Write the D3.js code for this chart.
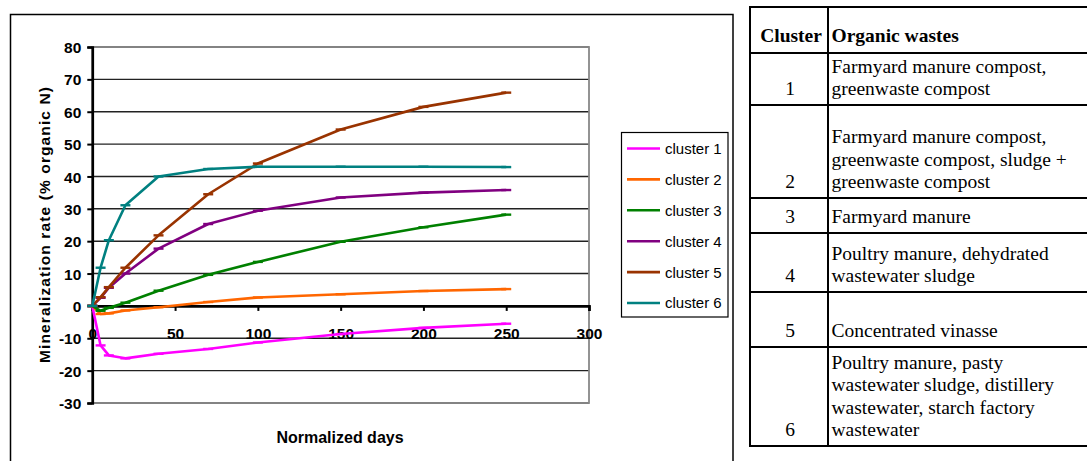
<!DOCTYPE html>
<html><head><meta charset="utf-8">
<script src="https://cdn.jsdelivr.net/npm/d3@7"></script>
<style>body{margin:0;background:#fff}svg{display:block}</style>
</head><body>
<svg id="c" width="1087" height="461"></svg>
<script>
// ---- data ----
const days = [0, 5, 10, 20, 40, 70, 100, 150, 200, 250];
const cluster1 = [0, -12.2, -15.3, -16.2, -14.8, -13.3, -11.3, -8.7, -6.8, -5.5];
const cluster2 = [0, -2.5, -2.3, -1.4, -0.4, 1.2, 2.6, 3.6, 4.6, 5.2];
const cluster3 = [0, -1.5, -0.6, 1.0, 4.7, 9.6, 13.6, 19.8, 24.3, 28.2];
const cluster4 = [0, 2.5, 5.6, 10.0, 17.7, 25.3, 29.4, 33.5, 35.0, 35.8];
const cluster5 = [0, 2.7, 5.8, 11.8, 21.8, 34.5, 44.0, 54.5, 61.5, 65.9];
const cluster6 = [0, 11.8, 20.3, 31.1, 40.0, 42.3, 43.0, 43.0, 43.0, 42.9];
const seriesNames = ["cluster 1", "cluster 2", "cluster 3", "cluster 4", "cluster 5", "cluster 6"];
const seriesColors = ["#FF00FF", "#FF6600", "#008000", "#800080", "#993300", "#008080"];
const yTicks = [80, 70, 60, 50, 40, 30, 20, 10, 0, -10, -20, -30];
const yTickLabels = ["80", "70", "60", "50", "40", "30", "20", "10", "0", "-10", "-20", "-30"];
const xTicks = [0, 50, 100, 150, 200, 250, 300];
const xTickLabels = ["0", "50", "100", "150", "200", "250", "300"];
const yTitle = "Mineralization rate (% organic N)";
const xTitle = "Normalized days";
const tableHeader = ["Cluster", "Organic wastes"];
const tableClusters = ["1", "2", "3", "4", "5", "6"];
const tableWastes = [
  ["Farmyard manure compost,", "greenwaste compost"],
  ["", "Farmyard manure compost,", "greenwaste compost, sludge +", "greenwaste compost"],
  ["Farmyard manure"],
  ["Poultry manure, dehydrated", "wastewater sludge"],
  ["", "Concentrated vinasse"],
  ["Poultry manure, pasty", "wastewater sludge, distillery", "wastewater, starch factory", "wastewater"]
];

const allSeries = [cluster1, cluster2, cluster3, cluster4, cluster5, cluster6];

// ---- layout ----
const svg = d3.select("#c");
const plot = {l: 92.3, r: 589, t: 47, b: 403};
const x = d3.scaleLinear().domain([0, 300]).range([plot.l, plot.r]);
const y = d3.scaleLinear().domain([-30, 80]).range([plot.b, plot.t]);
const sans = "Arial, 'Liberation Sans', Helvetica, sans-serif";
const serif = "'Times New Roman', 'Liberation Serif', serif";

// outer chart frame
svg.append("rect").attr("x", 10.5).attr("y", 14.5).attr("width", 722.5).attr("height", 460)
  .attr("fill", "none").attr("stroke", "#000").attr("stroke-width", 1.5);

// gridlines
svg.append("g").selectAll("line").data(yTicks).join("line")
  .attr("x1", plot.l).attr("x2", plot.r)
  .attr("y1", d => y(d)).attr("y2", d => y(d))
  .attr("stroke", "#222").attr("stroke-width", 1.4);

// plot border
svg.append("rect").attr("x", plot.l).attr("y", plot.t)
  .attr("width", plot.r - plot.l).attr("height", plot.b - plot.t)
  .attr("fill", "none").attr("stroke", "#888").attr("stroke-width", 1.8);

// y axis
const yAxis = svg.append("g").attr("transform", `translate(${plot.l},0)`)
  .call(d3.axisLeft(y).tickValues(yTicks).tickSize(5).tickPadding(6)
    .tickFormat((d, i) => yTickLabels[i]));
yAxis.select(".domain").attr("stroke", "#000").attr("stroke-width", 2.6);
yAxis.selectAll(".tick line").attr("stroke", "#000").attr("stroke-width", 2);
yAxis.selectAll(".tick text").attr("font-family", sans).attr("font-weight", "bold")
  .attr("font-size", 15.5).attr("fill", "#000").attr("dy", "0.36em");

// x axis at y=0
const xAxis = svg.append("g").attr("transform", `translate(0,${y(0)})`)
  .call(d3.axisBottom(x).tickValues(xTicks).tickSize(5).tickPadding(17)
    .tickFormat((d, i) => xTickLabels[i]));
xAxis.select(".domain").attr("stroke", "#000").attr("stroke-width", 2.6);
xAxis.selectAll(".tick line").attr("stroke", "#000").attr("stroke-width", 2);
xAxis.selectAll(".tick text").attr("font-family", sans).attr("font-weight", "bold")
  .attr("font-size", 15.5).attr("fill", "#000");

// series lines
const line = d3.line().x((d, i) => x(days[i])).y(d => y(d));
const sg = svg.append("g");
allSeries.forEach((vals, s) => {
  sg.append("path").datum(vals).attr("d", line)
    .attr("fill", "none").attr("stroke", seriesColors[s]).attr("stroke-width", 2.6)
    .attr("stroke-linejoin", "round");
  sg.append("g").selectAll("line").data(vals).join("line")
    .attr("x1", (d, i) => x(days[i]) - 5).attr("x2", (d, i) => x(days[i]) + 5)
    .attr("y1", d => y(d)).attr("y2", d => y(d))
    .attr("stroke", seriesColors[s]).attr("stroke-width", 2.4);
});

// axis titles
svg.append("text").attr("transform", `translate(45,${(plot.t + plot.b) / 2}) rotate(-90)`)
  .attr("text-anchor", "middle").attr("dy", "0.35em")
  .attr("font-family", sans).attr("font-weight", "bold").attr("font-size", 15.5)
  .attr("textLength", 276).attr("lengthAdjust", "spacing")
  .text(yTitle);
svg.append("text").attr("x", 340).attr("y", 437).attr("text-anchor", "middle").attr("dy", "0.35em")
  .attr("font-family", sans).attr("font-weight", "bold").attr("font-size", 16)
  .text(xTitle);

// legend
const lg = svg.append("g");
lg.append("rect").attr("x", 621.5).attr("y", 132.5).attr("width", 106.5).attr("height", 184.5)
  .attr("fill", "#fff").attr("stroke", "#000").attr("stroke-width", 1.2);
seriesNames.forEach((n, i) => {
  const yy = 148.5 + i * 30.9;
  lg.append("line").attr("x1", 627).attr("x2", 660).attr("y1", yy).attr("y2", yy)
    .attr("stroke", seriesColors[i]).attr("stroke-width", 2.6);
  lg.append("text").attr("x", 665).attr("y", yy).attr("dy", "0.36em")
    .attr("font-family", sans).attr("font-size", 15).attr("fill", "#000").text(n);
});

// table
const colX = [750, 828, 1095];
const rowY = [7, 53, 105, 198, 233, 292, 347, 446];
const tg = svg.append("g");
// horizontal rules
tg.selectAll("line.h").data(rowY).join("line").attr("class", "h")
  .attr("x1", colX[0] - 1).attr("x2", colX[2]).attr("y1", d => d).attr("y2", d => d)
  .attr("stroke", "#000").attr("stroke-width", 2);
// vertical rules
tg.selectAll("line.v").data(colX.slice(0, 2)).join("line").attr("class", "v")
  .attr("x1", d => d).attr("x2", d => d).attr("y1", rowY[0] - 1).attr("y2", rowY[rowY.length - 1] + 1)
  .attr("stroke", "#000").attr("stroke-width", 2);
// header
const tx = colX[1] + 3.5;
tg.append("text").attr("x", (colX[0] + colX[1]) / 2 + 2).attr("y", rowY[1] - 11).attr("text-anchor", "middle")
  .attr("font-family", serif).attr("font-weight", "bold").attr("font-size", 19.5).text(tableHeader[0]);
tg.append("text").attr("x", tx).attr("y", rowY[1] - 11)
  .attr("font-family", serif).attr("font-weight", "bold").attr("font-size", 19.5).text(tableHeader[1]);
// rows
tableClusters.forEach((c, r) => {
  const bottom = rowY[r + 2];
  const base = bottom - 10;
  tg.append("text").attr("x", (colX[0] + colX[1]) / 2 + 1).attr("y", base).attr("text-anchor", "middle")
    .attr("font-family", serif).attr("font-size", 19.5).text(c);
  const lines = tableWastes[r];
  lines.forEach((t, k) => {
    tg.append("text").attr("x", tx).attr("y", base - (lines.length - 1 - k) * 22.5)
      .attr("font-family", serif).attr("font-size", 19.5)
      .text(t);
  });
});
</script>
</body></html>
